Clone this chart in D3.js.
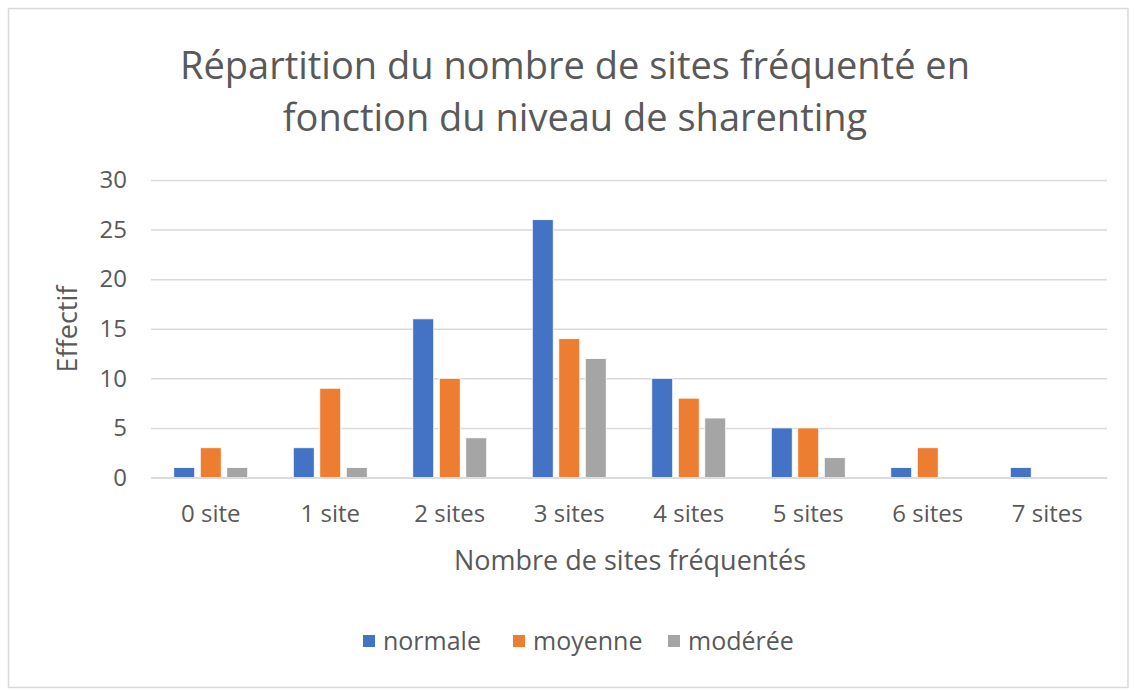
<!DOCTYPE html>
<html>
<head>
<meta charset="utf-8">
<script src="https://cdn.jsdelivr.net/npm/d3@7"></script>
<style>
  html, body { margin: 0; padding: 0; background: #fff; }
  svg { display: block; font-family: "Open Sans", "Noto Sans", sans-serif; }
</style>
</head>
<body>
<div id="chart"></div>
<script>
(function () {

    // categories on the x axis
    var categories = ["0 site", "1 site", "2 sites", "3 sites", "4 sites", "5 sites", "6 sites", "7 sites"];
    // series names (legend)
    var seriesNames = ["normale", "moyenne", "modérée"];
    // values per series
    var normale = [1, 3, 16, 26, 10, 5, 1, 1];
    var moyenne = [3, 9, 10, 14, 8, 5, 3, 0];
    var moderee = [1, 1, 4, 12, 6, 2, 0, 0];
    var yTicks = [0, 5, 10, 15, 20, 25, 30];

    var colors = ["#4472C4", "#ED7D31", "#A5A5A5"];
    var width = 1135, height = 691;
    var plot = { left: 151, right: 1107, top: 180, bottom: 477.5 };

    var seriesValues = [normale, moyenne, moderee];
    var rows = categories.map(function (c, i) {
        return { cat: c, values: seriesNames.map(function (s, j) { return { name: s, idx: j, value: seriesValues[j][i] }; }) };
    });

    var svg = d3.select("#chart").append("svg")
        .attr("width", width)
        .attr("height", height);

    // chart frame
    svg.append("rect")
        .attr("x", 8.5).attr("y", 8.5)
        .attr("width", 1119.5).attr("height", 679)
        .attr("fill", "#fff")
        .attr("stroke", "#D9D9D9")
        .attr("stroke-width", 1.5);

    var x0 = d3.scaleBand().domain(categories).range([plot.left, plot.right]).padding(0);
    var x1 = d3.scaleBand().domain(seriesNames).range([0, x0.bandwidth()])
        .paddingInner(0.21).paddingOuter(0.86);
    var y = d3.scaleLinear().domain([0, 30]).range([plot.bottom, plot.top]);

    // gridlines + y tick labels
    var yAxis = d3.axisLeft(y).tickValues(yTicks).tickSize(-(plot.right - plot.left)).tickPadding(24);
    var gy = svg.append("g")
        .attr("transform", "translate(" + plot.left + ",0)")
        .call(yAxis);
    gy.select(".domain").remove();
    gy.selectAll(".tick line").attr("stroke", "#D9D9D9").attr("stroke-width", 1.5);
    gy.selectAll(".tick text")
        .attr("fill", "#595959")
        .style("font-size", "24px")
        .style("font-family", "Open Sans, sans-serif");

    // bars
    var groups = svg.append("g").selectAll("g")
        .data(rows)
        .enter().append("g")
        .attr("transform", function (d) { return "translate(" + x0(d.cat) + ",0)"; });

    groups.selectAll("rect")
        .data(function (d) { return d.values; })
        .enter().append("rect")
        .attr("x", function (d) { return x1(d.name); })
        .attr("y", function (d) { return y(d.value); })
        .attr("width", x1.bandwidth())
        .attr("height", function (d) { return y(0) - y(d.value); })
        .attr("fill", function (d) { return colors[d.idx]; })
        .attr("stroke", "#fff")
        .attr("stroke-width", 0.8);

    // x axis labels
    var xAxis = d3.axisBottom(x0).tickSize(0).tickPadding(27);
    var gx = svg.append("g")
        .attr("transform", "translate(0," + plot.bottom + ")")
        .call(xAxis);
    gx.select(".domain").attr("stroke", "#D9D9D9").attr("stroke-width", 1.5);
    gx.selectAll(".tick text")
        .attr("fill", "#595959")
        .style("font-size", "24px")
        .style("font-family", "Open Sans, sans-serif");

    // title
    var title = svg.append("text")
        .attr("text-anchor", "middle")
        .attr("fill", "#595959")
        .style("font-size", "38px");
    title.append("tspan").attr("x", 575).attr("y", 79).text("Répartition du nombre de sites fréquenté en");
    title.append("tspan").attr("x", 575).attr("y", 131).text("fonction du niveau de sharenting");

    // axis titles
    svg.append("text")
        .attr("x", 630).attr("y", 570)
        .attr("text-anchor", "middle")
        .attr("fill", "#595959")
        .style("font-size", "27px")
        .text("Nombre de sites fréquentés");

    svg.append("text")
        .attr("transform", "translate(77,329) rotate(-90)")
        .attr("text-anchor", "middle")
        .attr("fill", "#595959")
        .style("font-size", "27px")
        .text("Effectif");

    // legend
    var legendX = [363, 513, 668];
    var legend = svg.append("g").selectAll("g")
        .data(seriesNames)
        .enter().append("g")
        .attr("transform", function (d, i) { return "translate(" + legendX[i] + ",635)"; });
    legend.append("rect")
        .attr("width", 12).attr("height", 12)
        .attr("fill", function (d, i) { return colors[i]; });
    legend.append("text")
        .attr("x", 20).attr("y", 15)
        .attr("fill", "#595959")
        .style("font-size", "25px")
        .text(function (d) { return d; });

})();
</script>
</body>
</html>
